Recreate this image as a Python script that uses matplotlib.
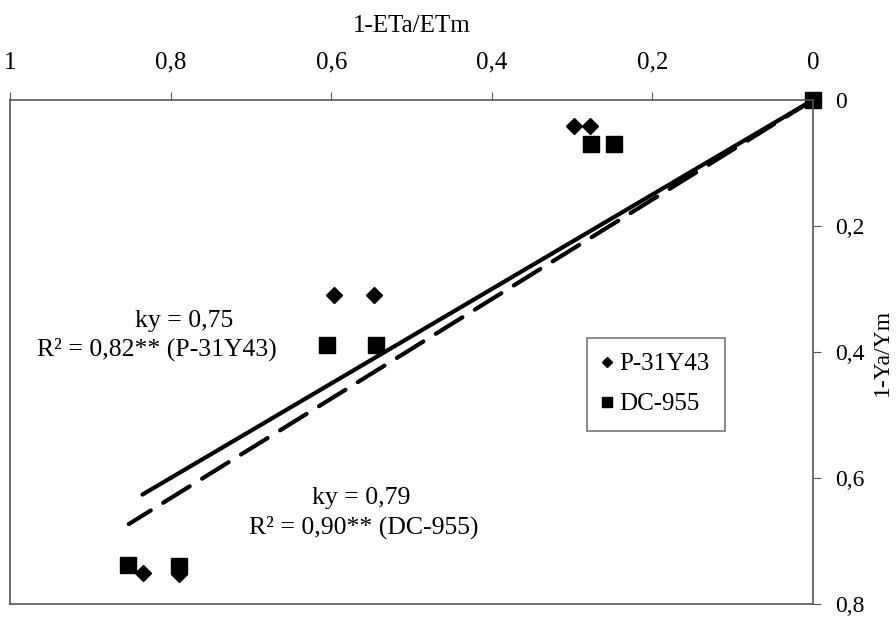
import numpy as np
import matplotlib
matplotlib.use("Agg")
import matplotlib.pyplot as plt

plt.rcParams['font.family'] = ['Liberation Serif', 'DejaVu Serif']

# P-31Y43 (diamonds)
p_x = [0.0, 0.298, 0.278, 0.596, 0.547, 0.834, 0.790]
p_y = [0.0, 0.041, 0.041, 0.310, 0.310, 0.750, 0.753]
# DC-955 (squares)
d_x = [0.0, 0.277, 0.248, 0.605, 0.544, 0.853, 0.790]
d_y = [0.0, 0.070, 0.070, 0.389, 0.389, 0.738, 0.740]

ky_p = 0.75
ky_d = 0.79

x_ticks = [1, 0.8, 0.6, 0.4, 0.2, 0]
y_ticks = [0, 0.2, 0.4, 0.6, 0.8]

def comma(v):
    return ('%g' % v).replace('.', ',')

fig = plt.figure(figsize=(8.96, 6.18), dpi=100)
ax = fig.add_axes([10/896, 1 - 604/618, 803/896, 504/618])

xs = np.array([0.0, 0.835])
ax.plot(xs, ky_p*xs, color='black', lw=3, solid_capstyle='round')
xs = np.array([0.0, 0.852])
ax.plot(xs, ky_d*xs, color='black', lw=3, dashes=(7.5, 3.5), dash_capstyle='round')
ax.plot(p_x, p_y, 'D', color='black', ms=8, label='P-31Y43', clip_on=False)
ax.plot(d_x, d_y, 's', color='black', ms=11, label='DC-955', clip_on=False)

ax.set_xlim(1, 0)
ax.set_ylim(0.8, 0)
ax.xaxis.tick_top()
ax.xaxis.set_label_position('top')
ax.yaxis.tick_right()
ax.yaxis.set_label_position('right')
ax.set_xticks(x_ticks)
ax.set_xticklabels([comma(v) for v in x_ticks])
ax.set_yticks(y_ticks)
ax.set_yticklabels([comma(v) for v in y_ticks])
ax.tick_params(axis='x', direction='out', length=6, pad=13, labelsize=18, color='#555555')
ax.tick_params(axis='y', direction='out', length=6, pad=10, labelsize=17, color='#555555')
ax.set_xlabel('1-ETa/ETm', fontsize=18, labelpad=14)
ax.set_ylabel('1-Ya/Ym', fontsize=17, labelpad=5, rotation=90)
for s in ax.spines.values():
    s.set_color('#555555')
    s.set_linewidth(1.2)

ax.text(0.783, 0.351, 'ky = 0,75', fontsize=18.5, ha='center', va='center')
ax.text(0.817, 0.395, 'R² = 0,82** (P-31Y43)', fontsize=18.5, ha='center', va='center')
ax.text(0.563, 0.631, 'ky = 0,79', fontsize=18.5, ha='center', va='center')
ax.text(0.560, 0.678, 'R² = 0,90** (DC-955)', fontsize=18.5, ha='center', va='center')

leg = ax.legend(loc='upper left', bbox_to_anchor=((587-10)/803, 1 - (337-99)/504),
                borderaxespad=0, fontsize=18, frameon=True, fancybox=False,
                edgecolor='#555555', handlelength=0.4, handletextpad=0.3,
                markerscale=0.7, labelspacing=0.7, borderpad=0.6)
leg.get_frame().set_linewidth(1.2)

fig.savefig('out.png', dpi=100)
